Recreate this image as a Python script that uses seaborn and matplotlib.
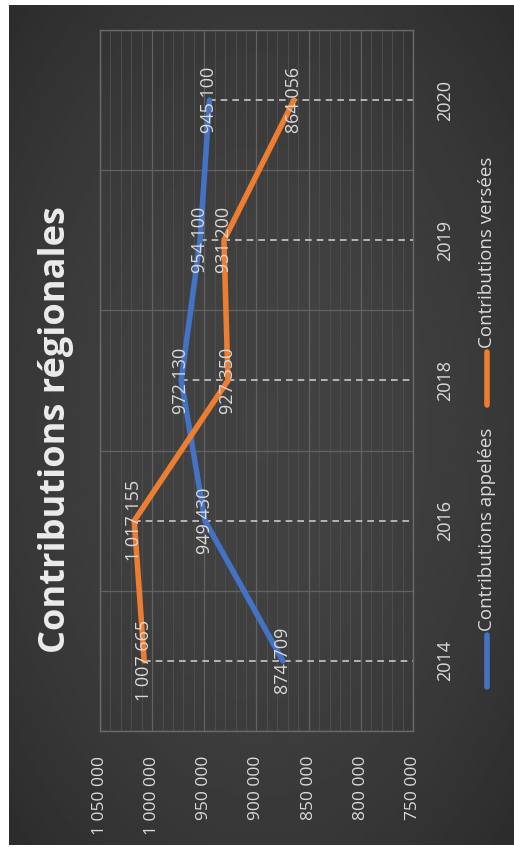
import numpy as np
import pandas as pd
import matplotlib
matplotlib.use("Agg")
import matplotlib.pyplot as plt
from matplotlib.lines import Line2D
from matplotlib.ticker import FixedLocator, MultipleLocator
import seaborn as sns

# ---- data ----
years = ["2014", "2016", "2018", "2019", "2020"]
appelees = [874709, 949430, 972130, 954100, 945100]
versees = [1007665, 1017155, 927350, 931200, 864056]
series_names = ["Contributions appelées", "Contributions versées"]
series_colors = ["#4472C4", "#ED7D31"]
value_ticks = [1050000, 1000000, 950000, 900000, 850000, 800000, 750000]
title = "Contributions régionales"


def fmt(v):
    return f"{v:,}".replace(",", " ")


W, H, DPI = 514, 849, 100
TXT = "#dadada"
plt.rcParams["font.family"] = ["Open Sans", "DejaVu Sans"]

fig = plt.figure(figsize=(W / DPI, H / DPI), dpi=DPI, facecolor="white")

# dark panel with soft radial shading
bg = fig.add_axes([9 / W, 1 - 845 / H, (W - 9) / W, (845 - 5) / H])
bg.set_axis_off()
yy, xx = np.mgrid[-1:1:300j, -1:1:300j]
r2 = xx ** 2 + yy ** 2
shade = 0.262 - 0.045 * r2
bg.imshow(shade, cmap="gray", vmin=0, vmax=1, extent=[0, 1, 0, 1],
          aspect="auto", interpolation="bilinear")
bg.set_xlim(0, 1)
bg.set_ylim(0, 1)

# chart drawn sideways: values run left->right (descending), years bottom->top
ax = fig.add_axes([100 / W, 1 - 731 / H, 313 / W, 701 / H])
ax.set_facecolor("none")
ax.set_axisbelow(True)

pos = np.arange(len(years))
df = pd.DataFrame({
    "value": appelees + versees,
    "pos": list(pos) * 2,
    "series": [series_names[0]] * len(years) + [series_names[1]] * len(years),
})

# drop lines from the higher of the two series down to the axis minimum
ax.hlines(pos, xmin=np.maximum(appelees, versees), xmax=min(value_ticks),
          colors="#c8c8c8", linestyles=(0, (4, 3)), linewidth=1.2, zorder=1.5)

sns.lineplot(data=df, x="value", y="pos", hue="series",
             palette=dict(zip(series_names, series_colors)),
             orient="y", sort=False, linewidth=4.0, legend=False, ax=ax,
             solid_capstyle="round", solid_joinstyle="round", zorder=3)

ax.set_xlim(max(value_ticks), min(value_ticks))
ax.set_ylim(-0.5, len(years) - 0.5)

# value axis (shown along the bottom edge)
ax.xaxis.set_major_locator(FixedLocator(value_ticks))
ax.set_xticklabels([fmt(v) for v in value_ticks], rotation=90,
                   color=TXT, fontsize=12.5)
ax.xaxis.set_minor_locator(MultipleLocator(10000))
ax.tick_params(axis="x", which="both", length=0, pad=18)

# category axis (shown along the right edge)
ax.yaxis.tick_right()
ax.set_yticks(pos)
ax.set_yticklabels(years, rotation=90, va="center", color=TXT, fontsize=13)
ax.yaxis.set_minor_locator(FixedLocator(np.arange(-0.5, len(years), 1.0)))
ax.tick_params(axis="y", which="both", length=0, pad=17)
ax.set_xlabel("")
ax.set_ylabel("")

ax.grid(which="major", axis="x", color="#626262", linewidth=0.9)
ax.grid(which="minor", axis="x", color="#4e4e4e", linewidth=0.7)
ax.grid(which="minor", axis="y", color="#626262", linewidth=0.9)
ax.grid(which="major", axis="y", visible=False)
for s in ax.spines.values():
    s.set_color("#6a6a6a")
    s.set_linewidth(1.0)

# value labels centred on each point
for vals in (appelees, versees):
    for p, v in zip(pos, vals):
        ax.text(v, p, fmt(v), rotation=90, ha="center", va="center",
                color=TXT, fontsize=13, zorder=5)

# title
fig.text(56 / W, 1 - 430 / H, title, rotation=90, ha="center", va="center",
         fontsize=26, fontweight="bold", color="#ececec")

# legend entries
legend_items = [
    (series_colors[0], series_names[0], 687, 635),
    (series_colors[1], series_names[1], 405, 352),
]
lx = 487 / W
for col, name, y0, y1 in legend_items:
    fig.add_artist(Line2D([lx, lx], [1 - y0 / H, 1 - y1 / H], color=col,
                          linewidth=4.0, solid_capstyle="round",
                          transform=fig.transFigure))
    fig.text(lx, 1 - (y1 - 4) / H, name, rotation=90, ha="center",
             va="bottom", color=TXT, fontsize=13.5)

fig.savefig("out.png", dpi=DPI, facecolor="white")
